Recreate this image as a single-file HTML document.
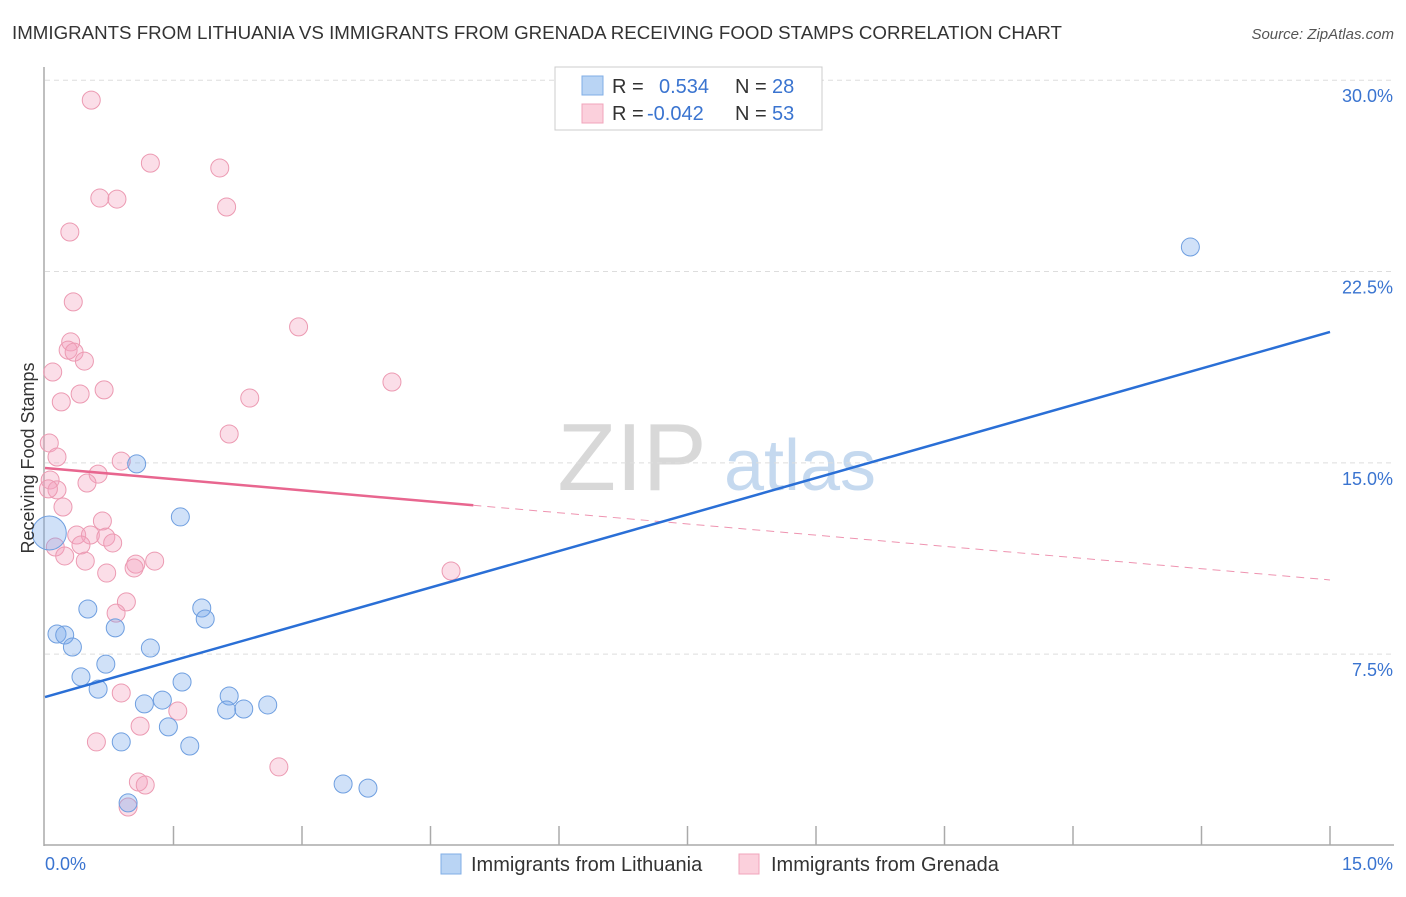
<!DOCTYPE html>
<html><head><meta charset="utf-8">
<style>
body{margin:0;background:#fff;font-family:"Liberation Sans",sans-serif;}
svg text{font-family:"Liberation Sans",sans-serif;}
</style></head>
<body>
<svg id="chart" width="1406" height="892" xmlns="http://www.w3.org/2000/svg">
<text x="12" y="39" font-size="18" fill="#333" textLength="1050" lengthAdjust="spacingAndGlyphs">IMMIGRANTS FROM LITHUANIA VS IMMIGRANTS FROM GRENADA RECEIVING FOOD STAMPS CORRELATION CHART</text>
<text x="1394" y="39" font-size="15" fill="#555" font-style="italic" text-anchor="end">Source: ZipAtlas.com</text>
<g>
<text x="632" y="490" font-size="96" fill="#d8d8d8" font-family="Liberation Serif" text-anchor="middle">ZIP</text>
<text x="800" y="490" font-size="72" fill="#c5d9ef" text-anchor="middle">atlas</text>
</g>
<g id="grid"></g>
<g id="axes"></g>
<g id="marks"></g>
<text transform="translate(34,458) rotate(-90)" font-size="18" fill="#333" text-anchor="middle">Receiving Food Stamps</text>
<g>
<rect x="555" y="67" width="267" height="63" fill="#fff" stroke="#ccc"/>
<rect x="582" y="76" width="21" height="19" fill="#b9d4f4" stroke="#80aee6"/>
<rect x="582" y="104" width="21" height="19" fill="#fbd0dc" stroke="#f0a5bb"/>
<text x="612" y="93" font-size="20" fill="#333">R = </text>
<text x="659" y="93" font-size="20" fill="#3a74d0">0.534</text>
<text x="735" y="93" font-size="20" fill="#333">N = </text>
<text x="772" y="93" font-size="20" fill="#3a74d0">28</text>
<text x="612" y="120" font-size="20" fill="#333">R = </text>
<text x="647" y="120" font-size="20" fill="#3a74d0">-0.042</text>
<text x="735" y="120" font-size="20" fill="#333">N = </text>
<text x="772" y="120" font-size="20" fill="#3a74d0">53</text>
</g>
<g>
<rect x="441" y="854" width="20" height="20" fill="#b9d4f4" stroke="#80aee6"/>
<text x="471" y="871" font-size="20" fill="#333">Immigrants from Lithuania</text>
<rect x="739" y="854" width="20" height="20" fill="#fbd0dc" stroke="#f0a5bb"/>
<text x="771" y="871" font-size="20" fill="#333">Immigrants from Grenada</text>
</g>
</svg>
<script>
const xTicksPct=[0,15];
const yTicksPct=[7.5,15,22.5,30];
const blueX=[13.37,1.07,1.58,0.05,0.50,0.14,0.23,0.32,0.82,1.83,1.87,1.23,0.71,0.42,0.62,1.60,1.16,1.37,2.15,2.12,2.32,2.60,1.44,0.89,1.69,3.48,3.77,0.97];
const blueY=[23.46,14.96,12.88,12.25,9.27,8.29,8.25,7.78,8.53,9.31,8.88,7.74,7.11,6.61,6.13,6.41,5.55,5.70,5.86,5.31,5.35,5.51,4.65,4.06,3.90,2.41,2.25,1.67];
const blueSize=[1,1,1,2,1,1,1,1,1,1,1,1,1,1,1,1,1,1,1,1,1,1,1,1,1,1,1,1];
const pinkX=[0.54,1.23,2.04,0.64,0.84,2.12,0.29,0.33,2.96,0.30,0.27,0.34,0.46,0.09,4.05,0.69,0.41,0.19,2.39,2.15,0.05,0.14,0.89,0.62,0.06,0.49,0.14,0.04,0.21,0.67,0.37,0.53,0.71,0.42,0.79,0.12,0.23,0.47,1.06,1.28,1.04,0.72,4.74,0.95,0.83,0.89,1.55,1.11,0.60,2.73,1.09,1.17,0.97];
const pinkY=[29.22,26.75,26.56,25.38,25.34,25.03,24.05,21.31,20.33,19.74,19.42,19.34,18.99,18.56,18.17,17.86,17.70,17.39,17.54,16.13,15.78,15.23,15.07,14.56,14.33,14.21,13.94,13.98,13.27,12.72,12.17,12.17,12.09,11.78,11.86,11.70,11.35,11.15,11.03,11.15,10.88,10.68,10.76,9.55,9.11,5.98,5.27,4.68,4.06,3.08,2.49,2.37,1.51];
const blueTrend=[5.82,20.13];
const pinkTrend=[14.80,10.41];
const pinkSolidEnd=5.0;

const NS="http://www.w3.org/2000/svg";
const X0=45,X1=1330,Y0=845.5,YPER=25.51;
function xs(v){return X0+(v/15)*(X1-X0);}
function ys(v){return Y0-v*YPER;}
function mk(tag,attrs,parent){const e=document.createElementNS(NS,tag);for(const k in attrs)e.setAttribute(k,attrs[k]);parent.appendChild(e);return e;}
const grid=document.getElementById('grid'),axes=document.getElementById('axes'),marks=document.getElementById('marks');
yTicksPct.forEach(v=>{
  const l=mk('line',{x1:X0,x2:1394,y1:ys(v),y2:ys(v),stroke:'#ddd','stroke-dasharray':'5,4'},grid);
  
  
  const t=mk('text',{x:1393,y:ys(v)+22,'font-size':18,fill:'#3a74d0','text-anchor':'end'},axes);
  t.textContent=v.toFixed(1)+'%';
  
  
});
const ya=mk('line',{x1:44,x2:44,y1:67,y2:846,stroke:'#aaa','stroke-width':1.5},axes);


const xa=mk('line',{x1:44,x2:1394,y1:845,y2:845,stroke:'#aaa','stroke-width':1.5},axes);


for(let i=1;i<=10;i++){
  const v=i*1.5;
  const tk=mk('line',{x1:xs(v),x2:xs(v),y1:826,y2:845,stroke:'#aaa','stroke-width':1.5},axes);
  
  
}
xTicksPct.forEach((v,i)=>{
  const t=mk('text',{x:i==0?45:1393,y:870,'font-size':18,fill:'#3a74d0','text-anchor':i==0?'start':'end'},axes);
  t.textContent=v.toFixed(1)+'%';
  
  
});
pinkX.forEach((v,i)=>{
  const c=mk('circle',{cx:xs(v),cy:ys(pinkY[i]),r:9,fill:'rgba(244,160,188,0.35)',stroke:'#ec9ab2','stroke-width':1},marks);
  
  
});
blueX.forEach((v,i)=>{
  const c=mk('circle',{cx:xs(v),cy:ys(blueY[i]),r:blueSize[i]>1?17:9,fill:'rgba(120,170,235,0.35)',stroke:'#6f9fe0','stroke-width':1},marks);
  
  
});
const pAt=x=>pinkTrend[0]+(pinkTrend[1]-pinkTrend[0])*x/15;
const pl=mk('line',{x1:xs(0),y1:ys(pinkTrend[0]),x2:xs(pinkSolidEnd),y2:ys(pAt(pinkSolidEnd)),stroke:'#e8668f','stroke-width':2.5},marks);


const pd=mk('line',{x1:xs(pinkSolidEnd),y1:ys(pAt(pinkSolidEnd)),x2:xs(15),y2:ys(pinkTrend[1]),stroke:'#e8668f','stroke-width':1,'stroke-dasharray':'8,6',opacity:0.7},marks);


const bl=mk('line',{x1:xs(0),y1:ys(blueTrend[0]),x2:xs(15),y2:ys(blueTrend[1]),stroke:'#2a6fd6','stroke-width':2.5},marks);


</script>
</body></html>
